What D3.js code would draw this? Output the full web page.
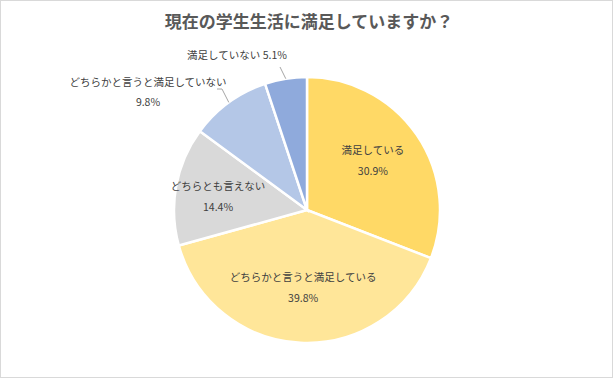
<!DOCTYPE html>
<html><head><meta charset="utf-8">
<script src="https://cdn.jsdelivr.net/npm/d3@7"></script>
<style>body{margin:0;background:#fff;}svg{display:block;font-family:"Noto Sans CJK JP","Noto Sans",sans-serif;}</style>
</head><body>
<svg id="c" width="613" height="378"></svg>
<script>
const title = "現在の学生生活に満足していますか？";
const categories = ["満足している","どちらかと言うと満足している","どちらとも言えない","どちらかと言うと満足していない","満足していない"];
const values = [30.9, 39.8, 14.4, 9.8, 5.1];
const colors = ["#FFD966","#FFE699","#D9D9D9","#B4C7E7","#8FAADC"];

const W = 613, H = 378, cx = 307, cy = 210, R = 133;
const svg = d3.select("#c");
svg.append("rect").attr("x",0.5).attr("y",0.5).attr("width",W-1).attr("height",H-1)
  .attr("fill","#fff").attr("stroke","#d9d9d9");
svg.append("text").attr("x",cx+2).attr("y",28).attr("text-anchor","middle")
  .attr("font-size",17).attr("font-weight","bold").attr("fill","#595959").text(title);

const pie = d3.pie().sort(null).value(d=>d)(values);
const arc = d3.arc().innerRadius(0).outerRadius(R);
const g = svg.append("g").attr("transform",`translate(${cx},${cy})`);
g.selectAll("path").data(pie).join("path").attr("d",arc)
  .attr("fill",(d,i)=>colors[i]).attr("stroke","#fff").attr("stroke-width",2.5);

const fmt = v => v.toFixed(1) + "%";
const tc = "#404040", fs = 10.5;
// inside labels
const inside = [0,1,2], rf = [0.6, 0.58, 0.68], dyAdj = [-5, 0, 2];
inside.forEach((i,k)=>{
  const a = (pie[i].startAngle+pie[i].endAngle)/2;
  const r = R*rf[k];
  const x = Math.sin(a)*r, y = -Math.cos(a)*r + dyAdj[k];
  const t = g.append("text").attr("text-anchor","middle").attr("font-size",fs).attr("fill",tc);
  t.append("tspan").attr("x",x).attr("y",y-6).text(categories[i]);
  t.append("tspan").attr("x",x).attr("y",y+15).text(fmt(values[i]));
});
function edge(i, f){ const a=(pie[i].startAngle+pie[i].endAngle)/2; return [Math.sin(a)*R*f, -Math.cos(a)*R*f]; }
// 9.8%
{
  const i=3; const [ex,ey]=edge(i,1.0);
  const lx = -159, ly = -124;
  g.append("polyline").attr("points",`${ex},${ey} ${-85},${-121} ${-90},${-121}`)
    .attr("fill","none").attr("stroke","#a6a6a6").attr("stroke-width",1);
  const t = g.append("text").attr("text-anchor","middle").attr("font-size",fs).attr("fill",tc);
  t.append("tspan").attr("x",lx).attr("y",ly).text(categories[i]);
  t.append("tspan").attr("x",lx).attr("y",ly+20).text(fmt(values[i]));
}
// 5.1%
{
  const i=4; const [ex,ey]=edge(i,1.0);
  g.append("polyline").attr("points",`${ex},${ey} ${-27},${-143}`)
    .attr("fill","none").attr("stroke","#a6a6a6").attr("stroke-width",1);
  g.append("text").attr("x",-70).attr("y",-151).attr("text-anchor","middle").attr("font-size",fs).attr("fill",tc)
    .text(categories[i]+" "+fmt(values[i]));
}
</script>
</body></html>
